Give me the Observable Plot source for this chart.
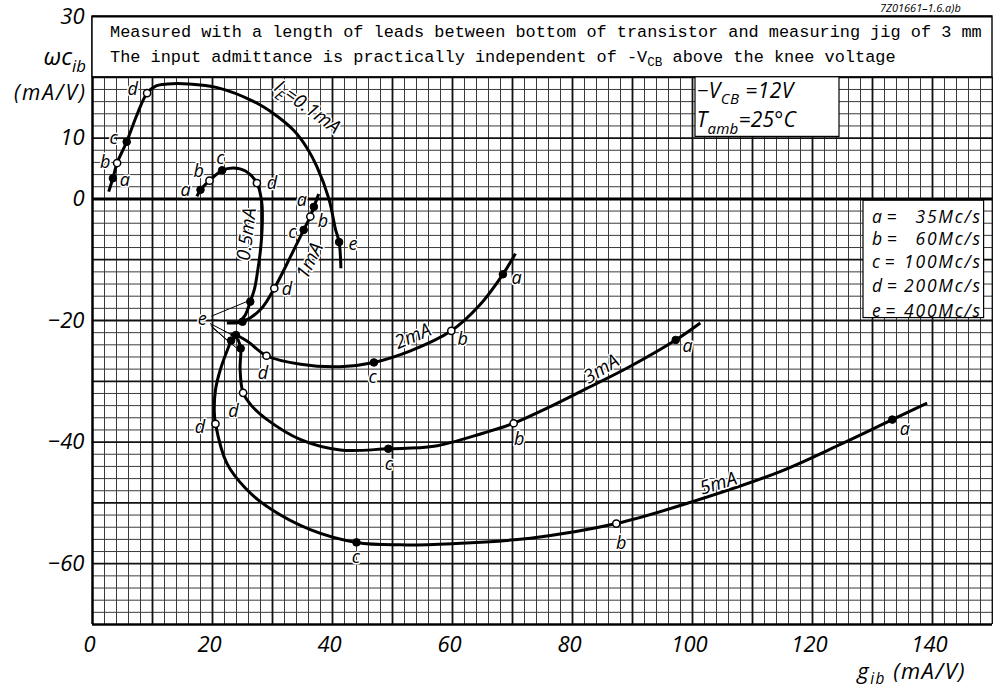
<!DOCTYPE html>
<html><head><meta charset="utf-8">
<script src="https://cdn.jsdelivr.net/npm/d3@7"></script>
<script src="https://cdn.jsdelivr.net/npm/@observablehq/plot@0.6"></script>
<style>
html,body{margin:0;padding:0;background:#fff;}
svg{display:block}
</style>
</head><body><div id="chart"></div>
<script>
// ---------- DATA ----------
const xTicks = [0, 20, 40, 60, 80, 100, 120, 140];
const yTicks = [30, 10, 0, -20, -40, -60];
const seriesNames = ["0.1mA", "0.5mA", "1mA", "2mA", "3mA", "5mA"];
const freqLetters = ["a", "b", "c", "d", "e"];
const freqValues = ["35", "60", "100", "200", "400"];
const freqUnit = "Mc/s";
const headerLine1 = "Measured with a length of leads between bottom of transistor and measuring jig of 3 mm";
const headerLine2 = ["The input admittance is practically independent of -V", "CB", " above the knee voltage"];
const condLine1 = ["\u2212V", "CB", " =12V"];
const condLine2 = ["T", "amb", "=25\u00b0C"];
const figCode = "7Z01661\u20131.6.a)b";

// curves (g_ib, omega c_ib) in mA/V
const curve01 = [[2.7,1.2],[3.4,3.4],[4.1,5.9],[5.7,9.4],[7.4,13.8],[9.1,17.4],[10.6,18.6],[12.5,18.9],[16,18.9],[20.8,18.3],[26.9,16.0],[30.5,13.8],[33.6,11.2],[35.8,8.3],[37.4,5.3],[39.4,0],[40.5,-5],[41.1,-7.1],[41.4,-11.4]];
const curve05 = [[17.4,0.4],[18,1.5],[19.5,3],[21.6,4.7],[23.5,5.1],[25.5,4.6],[27.4,2.6],[28.2,-0.5],[28.3,-4],[28,-8.4],[27.5,-12],[27,-14.8],[26.3,-16.9],[25.4,-19.2],[24.4,-20.3]];
const curve1  = [[37.7,0.8],[36.9,-1.3],[36.3,-2.9],[35.2,-5.1],[33,-9.5],[30.3,-14.7],[28,-18.2],[25,-20.2],[22.4,-20.4]];
const curve2  = [[23.0,-22.3],[23.9,-22.4],[25.8,-23.4],[29,-25.8],[34.7,-27.2],[41.3,-27.6],[46.9,-26.9],[53,-25],[59.8,-21.7],[64.5,-17.5],[68.4,-12.4],[70.5,-9.0]];
const curve3  = [[24.2,-23.0],[24.7,-24.6],[24.6,-28],[25.1,-31.9],[26.5,-34],[29.1,-36.3],[34.7,-39.6],[41.3,-41.3],[49.3,-41.1],[56.9,-40.7],[65.2,-38.5],[70.2,-36.9],[76,-34.3],[81.9,-31.4],[89.5,-27.6],[97.2,-23.2],[101.3,-20.4]];
const curve5  = [[23.1,-23.3],[21.3,-28.1],[20.5,-31.4],[20.3,-35],[20.5,-37],[22.4,-43.5],[25.5,-47.6],[29.1,-50.6],[36.3,-54.4],[44,-56.5],[51.3,-56.9],[60,-56.7],[73,-55.8],[87.3,-53.4],[100,-49.8],[114.7,-44.8],[125,-40.2],[133.3,-36.3],[139.1,-33.6]];

// measured points a..e per curve
const mk01 = [[3.4,3.4],[4.1,5.9],[5.7,9.4],[9.1,17.4],[41.1,-7.1]];
const mk05 = [[18,1.5],[19.5,3],[21.6,4.7],[27.4,2.6],[26.3,-16.9]];
const mk1  = [[36.9,-1.3],[36.3,-2.9],[35.2,-5.1],[30.3,-14.7],[25,-20.2]];
const mk2  = [[68.4,-12.4],[59.8,-21.7],[46.9,-26.9],[29,-25.8],[23.9,-22.4]];
const mk3  = [[97.2,-23.2],[70.2,-36.9],[49.3,-41.1],[25.1,-31.9],[24.7,-24.6]];
const mk5  = [[133.3,-36.3],[87.3,-53.4],[44,-56.5],[20.5,-37],[23.1,-23.3]];

// ---------- LAYOUT (annotation placement) ----------
const lb01 = [[5.4,3.0],[2.1,6.0],[3.5,9.9],[6.7,18.1],[43.4,-7.4]];
const lb05 = [[15.5,1.4],[17.7,4.6],[21.3,6.7],[29.9,2.5],null];
const lb1  = [[34.9,-0.3],[38.4,-3.6],[33.3,-5.5],[32.4,-14.9],null];
const lb2  = [[70.7,-13.1],[61.7,-23.1],[46.7,-29.4],[28.4,-28.6],null];
const lb3  = [[99.2,-24.3],[71.1,-39.6],[49.4,-43.7],[23.5,-34.9],null];
const lb5  = [[135.4,-37.9],[88.1,-56.6],[43.9,-59.0],[17.9,-37.5],null];
const eLabelPos = [18.3, -19.8];
const seriesLabelPos = [[35.3,15.2,36],[25.7,-5.8,-83],[36.2,-10.2,-64],[53.4,-22.6,-23],[84.8,-28.0,-32],[104.3,-46.8,-17]];

const FONT = "'Open Sans', 'DejaVu Sans', sans-serif";
const MONO = "'Liberation Mono', 'Courier New', monospace";

const curves = [curve01, curve05, curve1, curve2, curve3, curve5];
const mks = [mk01, mk05, mk1, mk2, mk3, mk5];
const lbs = [lb01, lb05, lb1, lb2, lb3, lb5];

const lineRows = curves.flatMap((c, i) => c.map(([x, y]) => ({s: seriesNames[i], x, y})));
const markerRows = mks.flatMap((m, i) => m.map(([x, y], j) => ({s: seriesNames[i], x, y, l: freqLetters[j], filled: j % 2 === 0})));
const letterRows = lbs.flatMap(lb => lb.map((p, j) => p ? {x: p[0], y: p[1], t: freqLetters[j]} : null).filter(Boolean));
letterRows.push({x: eLabelPos[0], y: eLabelPos[1], t: "e"});
const eStarts = [[19.8,-19.3],[19.8,-19.9],[19.6,-20.5],[19.7,-20.8],[19.9,-21.1]];
const eLinks = [mk05, mk1, mk2, mk5, mk3].map((m, i) => ({x1: eStarts[i][0], y1: eStarts[i][1], x2: m[4][0] - 0.6, y2: m[4][1]}));
const seriesLabelRows = seriesNames.slice(1).map((s, i) => ({t: s, x: seriesLabelPos[i + 1][0], y: seriesLabelPos[i + 1][1], r: seriesLabelPos[i + 1][2]}));

const minorX = d3.range(0, 151, 2).filter(v => v % 10 !== 0);
const majorX = d3.range(0, 151, 10);
const minorY = d3.range(-70, 21, 2).filter(v => v % 10 !== 0);
const majorY = d3.range(-70, 21, 10).filter(v => v !== 0);
const fmt = d => d < 0 ? "\u2212" + Math.abs(d) : String(d);

const chart = Plot.plot({
  width: 993, height: 691,
  marginLeft: 92, marginRight: 1, marginTop: 16, marginBottom: 67,
  x: {domain: [0, 150], axis: null},
  y: {domain: [-70, 30], axis: null},
  style: {fontFamily: FONT, background: "white", overflow: "visible"},
  marks: [
    Plot.ruleX(minorX, {x: d => d, y1: -70, y2: 20, stroke: "#3a3a3a", strokeWidth: 1}),
    Plot.ruleY(minorY, {y: d => d, x1: 0, x2: 150, stroke: "#3a3a3a", strokeWidth: 1}),
    Plot.ruleX(majorX, {x: d => d, y1: -70, y2: 20, stroke: "#111", strokeWidth: 1.8}),
    Plot.ruleY(majorY, {y: d => d, x1: 0, x2: 150, stroke: "#111", strokeWidth: 1.8}),
    Plot.ruleY([0], {y: d => d, x1: 0, x2: 150, stroke: "#000", strokeWidth: 3}),
    Plot.ruleX([0], {x: d => d, y1: -70, y2: 30, stroke: "#000", strokeWidth: 2.2}),
    Plot.ruleY([-70], {y: d => d, x1: 0, x2: 150, stroke: "#000", strokeWidth: 2.2}),
    // header box
    Plot.rect([0], {x1: 0, x2: 150, y1: 20, y2: 30, fill: "white", stroke: "black", strokeWidth: 1.4}),
    Plot.ruleY([30], {y: d => d, x1: 0, x2: 150, stroke: "#000", strokeWidth: 2.2}),
    // condition box and frequency legend box
    Plot.rect([0], {x1: 100.5, x2: 124.5, y1: 10.2, y2: 20, fill: "white", stroke: "black", strokeWidth: 1.2}),
    Plot.rect([0], {x1: 128.5, x2: 148.6, y1: -19.6, y2: -0.3, fill: "white", stroke: "black", strokeWidth: 1.2}),
    // curves
    Plot.line(lineRows, {x: "x", y: "y", z: "s", curve: "catmull-rom", stroke: "black", strokeWidth: 3, strokeLinecap: "butt", strokeLinejoin: "round"}),
    // e leader lines
    Plot.link(eLinks, {x1: "x1", y1: "y1", x2: "x2", y2: "y2", stroke: "black", strokeWidth: 1}),
    // measured points
    Plot.dot(markerRows.filter(d => d.filled), {x: "x", y: "y", r: 3.8, fill: "black", stroke: "black", strokeWidth: 1}),
    Plot.dot(markerRows.filter(d => !d.filled), {x: "x", y: "y", r: 3.6, fill: "white", stroke: "black", strokeWidth: 1.5}),
    // point letters
    Plot.text(letterRows, {x: "x", y: "y", text: "t", fontSize: 18, fontStyle: "italic", fill: "black", stroke: "white", strokeWidth: 3}),
    // series labels
    Plot.text(seriesLabelRows, {x: "x", y: "y", text: "t", rotate: "r", fontSize: 19, fontStyle: "italic", fill: "black", stroke: "white", strokeWidth: 3}),
    // tick labels
    Plot.text(yTicks, {x: () => 0, y: d => d, text: fmt, textAnchor: "end", dx: -8, fontSize: 22, fontStyle: "italic", fill: "black"}),
    Plot.text(xTicks, {x: d => d, y: () => -70, text: fmt, dy: 20, dx: -3, fontSize: 22, fontStyle: "italic", fill: "black"})
  ]
});

document.getElementById("chart").appendChild(chart);
const svg = d3.select(chart);
svg.selectAll("text").attr("paint-order", "stroke").attr("stroke-linejoin", "round");
const X = v => chart.scale("x").apply(v);
const Y = v => chart.scale("y").apply(v);

function rich(px, py, parts, o) {
  const size = o.size;
  const t = svg.append("text")
    .attr("transform", `translate(${px},${py})` + (o.rotate ? ` rotate(${o.rotate})` : ""))
    .attr("font-family", o.family || FONT)
    .attr("font-style", o.style || "italic")
    .attr("font-size", size)
    .attr("text-anchor", o.anchor || "start")
    .attr("fill", "black");
  if (o.spacing) t.attr("letter-spacing", o.spacing);
  if (o.halo) t.attr("stroke", "white").attr("stroke-width", o.halo).attr("paint-order", "stroke").attr("stroke-linejoin", "round");
  let shifted = 0;
  parts.forEach((p, i) => {
    const sub = i % 2 === 1;
    const target = sub ? size * (o.shift || 0.3) : 0;
    const s = t.append("tspan").text(p);
    if (target - shifted) s.attr("dy", target - shifted);
    shifted = target;
    s.attr("font-size", sub ? size * (o.subScale || 0.72) : size);
  });
  return t;
}

// header text
rich(X(3.0), Y(27.5) + 5.5, [headerLine1], {size: 16.9, family: MONO, style: "normal"});
rich(X(3.0), Y(23.3) + 5.5, headerLine2, {size: 16.9, family: MONO, style: "normal", subScale: 0.75, shift: 0.25});
// figure code
rich(880, 12, [figCode], {size: 11});
// conditions
rich(X(100.8), Y(16.5), condLine1, {size: 21, subScale: 0.72, shift: 0.3, spacing: 0.4});
rich(X(100.8), Y(11.7), condLine2, {size: 21, subScale: 0.72, shift: 0.3, spacing: 0.2});
// frequency legend: letter + "=" left-aligned, value right-aligned
const freqY = [-3.0, -6.56, -10.4, -14.4, -18.4];
freqLetters.forEach((l, i) => {
  rich(X(130.0), Y(freqY[i]) + 6.3, [l + " ="], {size: 17.5});
  rich(X(148.3), Y(freqY[i]) + 6.3, [freqValues[i] + freqUnit], {size: 17.5, anchor: "end", spacing: 1.8});
});
// I_E = 0.1 mA label
rich(X(seriesLabelPos[0][0]), Y(seriesLabelPos[0][1]) + 6, ["I", "E", "=0.1mA"], {size: 19, anchor: "middle", rotate: seriesLabelPos[0][2], halo: 3, subScale: 0.75});
// axis titles
rich(86, 65, ["\u03c9c", "ib"], {size: 24, anchor: "end", subScale: 0.7, shift: 0.3});
rich(87, 100, ["(mA/V)"], {size: 21, anchor: "end", spacing: 2});
rich(966, 679, ["g", "ib", " (mA/V)"], {size: 22, anchor: "end", subScale: 0.7, shift: 0.22, spacing: 1.5});
</script>
</body></html>
